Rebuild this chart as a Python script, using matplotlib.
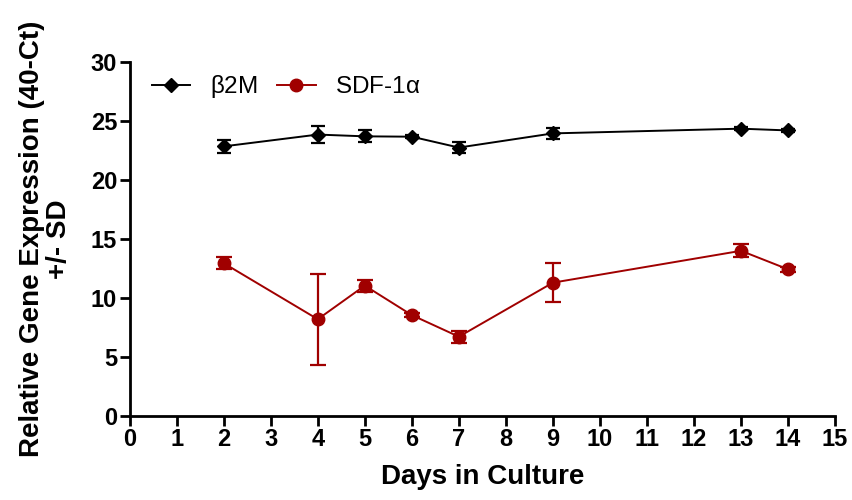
import matplotlib
matplotlib.use("Agg")
from matplotlib import pyplot as plt
from matplotlib.lines import Line2D

plt.rcParams['font.family'] = ['Liberation Sans', 'DejaVu Sans']

# data
b2m_days = [2, 4, 5, 6, 7, 9, 13, 14]
b2m_mean = [22.85, 23.85, 23.7, 23.67, 22.75, 23.95, 24.35, 24.2]
b2m_sd = [0.55, 0.7, 0.5, 0.15, 0.5, 0.45, 0.15, 0.15]

sdf_days = [2, 4, 5, 6, 7, 9, 13, 14]
sdf_mean = [12.95, 8.2, 11.05, 8.55, 6.72, 11.3, 14.0, 12.43]
sdf_sd = [0.5, 3.85, 0.5, 0.2, 0.5, 1.65, 0.55, 0.2]

x_ticks = list(range(0, 16))
y_ticks = [0, 5, 10, 15, 20, 25, 30]

black = 'black'
red = '#A00000'

fig = plt.figure(figsize=(8.53, 5.0), dpi=100)
ax = fig.add_axes([0.152, 0.168, 0.827, 0.708])

ax.errorbar(b2m_days, b2m_mean, yerr=b2m_sd, color=black, marker='D',
            markersize=7, linewidth=1.4, elinewidth=1.6, capsize=5,
            capthick=1.6)
ax.errorbar(sdf_days, sdf_mean, yerr=sdf_sd, color=red, marker='o',
            markersize=9, linewidth=1.4, elinewidth=1.6, capsize=6,
            capthick=1.6)

ax.set_xlim(0, 15)
ax.set_ylim(0, 30)
ax.set_xticks(x_ticks)
ax.set_yticks(y_ticks)
for s in ['top', 'right']:
    ax.spines[s].set_visible(False)
for s in ['left', 'bottom']:
    ax.spines[s].set_linewidth(2)
ax.tick_params(axis='both', direction='out', length=7, width=2,
               labelsize=17, pad=2)
for lab in ax.get_xticklabels() + ax.get_yticklabels():
    lab.set_fontweight('bold')

ax.set_xlabel('Days in Culture', fontsize=20, fontweight='bold', labelpad=9)
ax.set_ylabel('Relative Gene Expression (40-Ct)\n+/- SD', fontsize=20,
              fontweight='bold', linespacing=1.05)
ax.yaxis.set_label_coords(-0.082, 0.5)

# legend without error bars, like the original
handles = [Line2D([], [], color=black, marker='D', markersize=7, linewidth=1.4),
           Line2D([], [], color=red, marker='o', markersize=9, linewidth=1.4)]
labels = [r'$\mathregular{\beta}$2M', r'SDF-1$\mathregular{\alpha}$']
ax.legend(handles, labels, loc='upper left', ncol=2, frameon=False,
          fontsize=17.5, bbox_to_anchor=(0.0, 1.03), handlelength=1.6,
          columnspacing=0.8, handletextpad=0.8)

fig.savefig('out.png', dpi=100)
